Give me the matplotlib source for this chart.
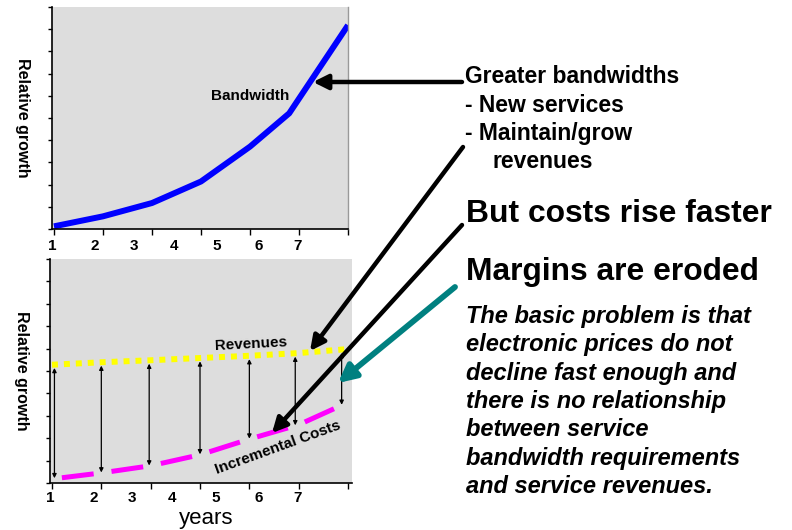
import matplotlib
matplotlib.use("Agg")
import matplotlib.pyplot as plt
import numpy as np

# ---- data ----
years = [1, 2, 3, 4, 5, 6, 7]
tick_labels = ['1', '2', '3', '4', '5', '6', '7']
tick_label_pos = [0.96, 1.84, 2.63, 3.44, 4.32, 5.18, 5.97]
bw_x = [1, 2, 3, 4, 5, 5.8, 7]
bw_y = [0.12, 0.57, 1.17, 2.14, 3.71, 5.21, 9.18]
rev_y = [5.28, 5.39, 5.48, 5.58, 5.68, 5.80, 5.98]
cost_y = [0.18, 0.45, 0.77, 1.26, 1.96, 2.60, 3.60]
gap_x = [1.05, 2.0, 2.97, 4.0, 5.0, 5.93, 6.87]

W, H = 792, 530
FONT = 'Liberation Sans'
plt.rcParams['font.family'] = [FONT, 'DejaVu Sans']
BG = '#dddddd'

fig = plt.figure(figsize=(W / 100, H / 100), dpi=100)


def fx(x):
    return x / W


def fy(y):
    return 1 - y / H


def style_axes(ax, xmax, pad=7):
    ax.set_facecolor(BG)
    ax.set_xlim(1, xmax)
    ax.set_ylim(0, 10)
    ax.set_yticks(np.arange(0, 11, 1))
    ax.set_yticklabels([])
    ax.set_xticks(years)
    ax.set_xticklabels([])
    ax.set_xticks(tick_label_pos, tick_labels, minor=True)
    ax.tick_params(axis='x', which='minor', length=0, pad=pad,
                   labelsize=11)
    ax.tick_params(axis='x', which='major', length=4, width=1, direction='out')
    ax.tick_params(axis='y', which='major', length=3, width=1, direction='out')
    for lab in ax.get_xticklabels(minor=True):
        lab.set_fontweight('bold')
    ax.spines['top'].set_visible(False)
    ax.spines['right'].set_visible(False)
    ax.spines['left'].set_linewidth(1.2)
    ax.spines['bottom'].set_linewidth(1.2)


# ---- top panel ----
ax1 = fig.add_axes([fx(52), fy(229), (348 - 52) / W, (229 - 7) / H])
style_axes(ax1, 7)
ax1.spines['right'].set_visible(True)
ax1.spines['right'].set_color('#999999')
ax1.spines['right'].set_linewidth(1)
ax1.plot(bw_x, bw_y, color='#0000ff', lw=4.3, solid_capstyle='butt')
ax1.text(5.0, 6.0, 'Bandwidth', fontsize=11, fontweight='bold', ha='center', va='center')
ax1.set_ylabel('Relative growth', fontsize=11.5, fontweight='bold', rotation=270)
ax1.yaxis.set_label_coords(-0.1, 0.5)
ax1.yaxis.label.set_va('center')

# ---- bottom panel ----
ax2 = fig.add_axes([fx(50), fy(483), (352 - 50) / W, (483 - 259) / H])
style_axes(ax2, 7.08, pad=5.5)
ax2.plot(years, rev_y, color='#ffff00', lw=4.3, linestyle=(0, (1.0, 1.0)),
         dash_capstyle='butt')
ax2.plot(years, cost_y, color='#ff00ff', lw=3.6, linestyle=(-2, (6.4, 3.6)),
         dash_capstyle='butt')
for gx in gap_x:
    top = np.interp(gx, years, rev_y) - 0.15
    bot = np.interp(gx, years, cost_y) + 0.02
    ax2.annotate('', xy=(gx, bot), xytext=(gx, top),
                 arrowprops=dict(arrowstyle='<|-|>', color='black', lw=0.9,
                                 mutation_scale=6, shrinkA=0, shrinkB=0))
ax2.text(5.03, 6.2, 'Revenues', fontsize=11, fontweight='bold', ha='center',
         va='center', rotation=3)
ax2.text(5.57, 1.6, 'Incremental Costs', fontsize=11, fontweight='bold',
         ha='center', va='center', rotation=20)
ax2.set_ylabel('Relative growth', fontsize=11.5, fontweight='bold', rotation=270)
ax2.yaxis.set_label_coords(-0.095, 0.5)
ax2.yaxis.label.set_va('center')
fig.text(fx(206), fy(524), 'years', fontsize=16, ha='center', va='baseline')

# ---- right-side text ----
fig.text(fx(465), fy(83), 'Greater bandwidths', fontsize=16.5, fontweight='bold',
         ha='left', va='baseline')
fig.text(fx(465), fy(112), '- New services', fontsize=16.5, fontweight='bold',
         ha='left', va='baseline')
fig.text(fx(465), fy(140), '- Maintain/grow', fontsize=16.5, fontweight='bold',
         ha='left', va='baseline')
fig.text(fx(492), fy(168), 'revenues', fontsize=16.5, fontweight='bold',
         ha='left', va='baseline')
fig.text(fx(466), fy(222), 'But costs rise faster', fontsize=22.9, fontweight='bold',
         ha='left', va='baseline')
fig.text(fx(466), fy(280), 'Margins are eroded', fontsize=22.9, fontweight='bold',
         ha='left', va='baseline')
para = ['The basic problem is that',
        'electronic prices do not',
        'decline fast enough and',
        'there is no relationship',
        'between service',
        'bandwidth requirements',
        'and service revenues.']
for i, line in enumerate(para):
    fig.text(fx(466), fy(323 + i * 28.3), line, fontsize=17, fontweight='bold',
             fontstyle='italic', ha='left', va='baseline')

# ---- callout arrows (figure pixels) ----
def arrow(x0, y0, x1, y1, color='black', lw=3.2, ms=22):
    fig.add_artist(matplotlib.patches.FancyArrowPatch(
        (fx(x0), fy(y0)), (fx(x1), fy(y1)), transform=fig.transFigure,
        arrowstyle='-|>', mutation_scale=ms, color=color, lw=lw,
        shrinkA=0, shrinkB=0))

arrow(462, 82, 313, 82)
arrow(463, 147, 310, 351)
arrow(462, 225, 272, 433)
arrow(455, 287, 338, 383, color='#008080', lw=4.2, ms=26)

fig.savefig('out.png', dpi=100)
